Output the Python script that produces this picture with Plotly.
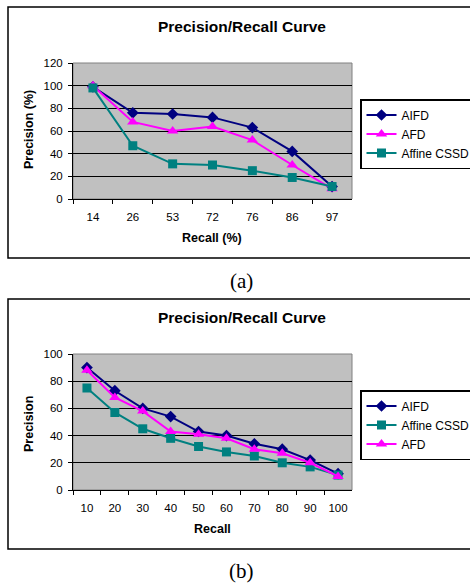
import plotly.graph_objects as go

W, H = 470, 583

# ---------- data ----------
recall_a = ["14", "26", "53", "72", "76", "86", "97"]
aifd_a = [99, 76, 75, 72, 63, 42, 11]
afd_a = [100, 68, 60, 64, 52, 30, 9]
cssd_a = [98, 47, 31, 30, 25, 19, 11]

recall_b = ["10", "20", "30", "40", "50", "60", "70", "80", "90", "100"]
aifd_b = [90, 73, 60, 54, 43, 40, 34, 30, 22, 12]
cssd_b = [75, 57, 45, 38, 32, 28, 25, 20, 17, 11]
afd_b = [88, 68, 58, 43, 41, 38, 30, 27, 20, 10]

NAVY = "#000080"
MAG = "#FF00FF"
TEAL = "#008080"
FONT = "Liberation Sans, Arial, sans-serif"


def px(x):
    return x / W


def py(y):
    return 1 - y / H


fig = go.Figure()

def add(xs, ys, name, color, symbol, size, xa, ya, legend):
    fig.add_trace(go.Scatter(
        x=xs, y=ys, name=name, mode="lines+markers",
        line=dict(color=color, width=2),
        marker=dict(symbol=symbol, size=size, color=color),
        xaxis=xa, yaxis=ya, legend=legend))

add(recall_a, aifd_a, "AIFD", NAVY, "diamond", 9, "x", "y", "legend")
add(recall_a, afd_a, "AFD", MAG, "triangle-up", 10, "x", "y", "legend")
add(recall_a, cssd_a, "Affine CSSD", TEAL, "square", 9, "x", "y", "legend")

add(recall_b, aifd_b, "AIFD", NAVY, "diamond", 9, "x2", "y2", "legend2")
add(recall_b, cssd_b, "Affine CSSD", TEAL, "square", 9, "x2", "y2", "legend2")
add(recall_b, afd_b, "AFD", MAG, "triangle-up", 10, "x2", "y2", "legend2")

xcommon = dict(type="category", tickson="boundaries", ticks="outside", ticklen=4,
               tickcolor="black", showline=True, linecolor="black", linewidth=1,
               showgrid=False, zeroline=False, ticklabelstandoff=7,
               tickfont=dict(family=FONT, size=11.5, color="black"))
ycommon = dict(ticks="outside", ticklen=4, tickcolor="black", showline=True,
               linecolor="black", linewidth=1, showgrid=True, gridcolor="black",
               gridwidth=1, zeroline=False, dtick=20, ticklabelstandoff=3,
               tickfont=dict(family=FONT, size=11.5, color="black"))

legcommon = dict(bgcolor="white", bordercolor="black", borderwidth=1.5,
                 font=dict(family=FONT, size=12, color="black"),
                 xanchor="left", yanchor="top", itemwidth=30,
                 tracegroupgap=0, traceorder="normal")

fig.update_layout(
    width=W, height=H,
    margin=dict(l=0, r=0, t=0, b=0, autoexpand=False),
    paper_bgcolor="white",
    plot_bgcolor="#C0C0C0",
    showlegend=True,
    xaxis=dict(domain=[px(73), px(352)], anchor="y", range=[-0.5, 6.5], **xcommon),
    yaxis=dict(domain=[py(199), py(63)], anchor="x", range=[0, 120], **ycommon),
    xaxis2=dict(domain=[px(73), px(352)], anchor="y2", range=[-0.5, 9.5], **xcommon),
    yaxis2=dict(domain=[py(490), py(354)], anchor="x2", range=[0, 100], **ycommon),
    legend=dict(x=px(360), y=py(99), **legcommon),
    legend2=dict(x=px(360), y=py(390), **legcommon),
)

shapes = []
# outer frames
for top, bot in [(7, 258), (299, 549)]:
    shapes.append(dict(type="rect", xref="paper", yref="paper",
                       x0=px(8), x1=px(475), y0=py(bot), y1=py(top),
                       line=dict(color="black", width=1.5), layer="below"))
# plot-area borders
for xr, yr in [("x domain", "y domain"), ("x2 domain", "y2 domain")]:
    shapes.append(dict(type="rect", xref=xr, yref=yr, x0=0, x1=1, y0=0, y1=1,
                       line=dict(color="#808080", width=1), layer="below"))
fig.update_layout(shapes=shapes)

ann = []
def text(x, y, s, size, bold=False, family=FONT, angle=0):
    ann.append(dict(xref="paper", yref="paper", x=px(x), y=py(y), text=(f"<b>{s}</b>" if bold else s),
                    showarrow=False, xanchor="center", yanchor="middle", textangle=angle,
                    font=dict(family=family, size=size, color="black")))

text(242, 26, "Precision/Recall Curve", 15.5, bold=True)
text(212, 238, "Recall (%)", 12.5, bold=True)
text(29, 130, "Precision (%)", 12.5, bold=True, angle=-90)
text(242, 281, "(a)", 21, family="Liberation Serif, Times New Roman, serif")

text(242, 317, "Precision/Recall Curve", 15.5, bold=True)
text(212, 529, "Recall", 12.5, bold=True)
text(29, 424, "Precision", 12.5, bold=True, angle=-90)
text(242, 571, "(b)", 21, family="Liberation Serif, Times New Roman, serif")
fig.update_layout(annotations=ann)

fig.write_html(
    "out.html",
    config={"displayModeBar": False},
    post_script="document.documentElement.style.margin='0';document.body.style.margin='0';"
                "document.body.style.overflow='hidden';",
)
